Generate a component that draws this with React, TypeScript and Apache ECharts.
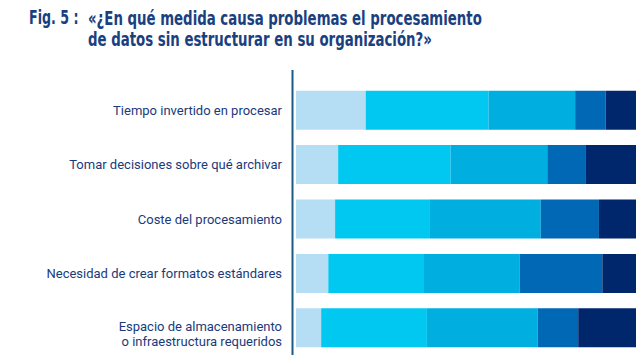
import React, { useEffect, useRef } from "react";
import * as echarts from "echarts";

const categories = [
  "Tiempo invertido en procesar",
  "Tomar decisiones sobre qué archivar",
  "Coste del procesamiento",
  "Necesidad de crear formatos estándares",
  "Espacio de almacenamiento\no infraestructura requeridos",
];
const seriesA = [20.5, 12.4, 11.5, 9.5, 7.4];
const seriesB = [36.1, 33.1, 27.9, 27.9, 31.1];
const seriesC = [25.5, 28.4, 32.6, 28.4, 32.6];
const seriesD = [9.0, 11.2, 17.1, 24.3, 11.9];
const seriesE = [8.9, 14.9, 11.0, 9.9, 17.0];
const seriesColors = ["#b5def5", "#00c8f0", "#00afe0", "#0068b4", "#00266b"];
const titleFig = "Fig. 5 :";
const titleLine1 = "«¿En qué medida causa problemas el procesamiento";
const titleLine2 = "de datos sin estructurar en su organización?»";

export default function App() {
  const ref = useRef<HTMLDivElement>(null);
  useEffect(() => {
    document.body.style.margin = "0";
    const chart = echarts.init(ref.current!, null, { renderer: "svg" });
    const all = [seriesA, seriesB, seriesC, seriesD, seriesE];
    const titleFont = "'DejaVu Sans Condensed', 'DejaVu Sans', sans-serif";
    const sx = 0.78;
    const labelStyle = {
      color: "#1a3a7a",
      fontSize: 13,
      lineHeight: 15,
      fontFamily: "Roboto, sans-serif",
    };
    chart.setOption({
      animation: false,
      grid: { left: 296, right: 4, top: 83, height: 275, containLabel: false },
      xAxis: { type: "value", min: 0, max: 100, show: false },
      yAxis: {
        type: "category",
        inverse: true,
        data: categories,
        axisLine: { show: false },
        axisTick: { show: false },
        splitLine: { show: false },
        axisLabel: {
          margin: 14,
          ...labelStyle,
          align: "right",
          formatter: (v: string) =>
            v.includes("\n")
              ? "{s| }\n" + v.split("\n").map((l) => `{a|${l}}`).join("\n")
              : v,
          rich: {
            a: { ...labelStyle },
            s: { fontSize: 1, lineHeight: 12 },
          },
        },
      },
      series: all.map((d, i) => ({
        type: "bar",
        stack: "total",
        data: d,
        barWidth: 39,
        itemStyle: { color: seriesColors[i] },
      })),
      graphic: [
        {
          type: "text",
          x: 29,
          y: 8,
          scaleX: 0.74,
          style: {
            text: titleFig,
            fill: "#1a4080",
            font: `bold 19px ${titleFont}`,
            verticalAlign: "top",
          },
        },
        {
          type: "text",
          x: 88,
          y: 8,
          scaleX: sx,
          style: {
            text: titleLine1 + "\n" + titleLine2,
            fill: "#1a4080",
            font: `bold 19px ${titleFont}`,
            lineHeight: 21,
            verticalAlign: "top",
          },
        },
        {
          type: "line",
          shape: { x1: 292.5, y1: 70, x2: 292.5, y2: 355 },
          style: { stroke: "#1a5a86", lineWidth: 2 },
        },
      ],
    });
    return () => chart.dispose();
  }, []);
  return <div ref={ref} style={{ width: 640, height: 355 }} />;
}
